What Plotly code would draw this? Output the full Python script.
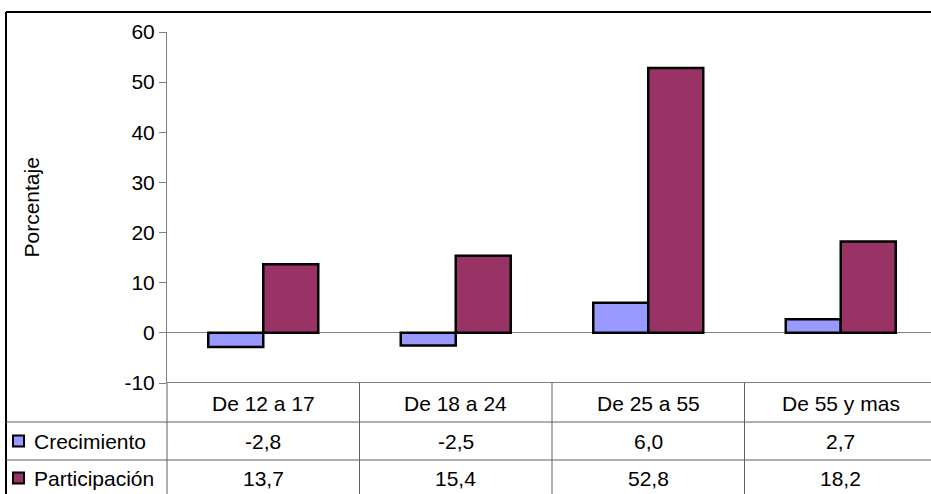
import plotly.graph_objects as go

# ---- data ----
categories = ["De 12 a 17", "De 18 a 24", "De 25 a 55", "De 55 y mas"]
crecimiento = [-2.8, -2.5, 6.0, 2.7]
participacion = [13.7, 15.4, 52.8, 18.2]
series_names = ["Crecimiento", "Participación"]
series_colors = ["#9999FF", "#993366"]
y_ticks = [-10, 0, 10, 20, 30, 40, 50, 60]
y_tick_labels = [str(t) for t in y_ticks]
y_title = "Porcentaje"

series_values = [crecimiento, participacion]

W, H = 931, 494
L, R, T, B = 167, 0, 32, 111
PW = W - L - R
PH = H - T - B
FONT = "Liberation Sans, Arial, sans-serif"
FS = 21


def xp(px):
    return (px - L) / PW


def yp(py):
    return (H - B - py) / PH


def fmt(v):
    return f"{v:.1f}".replace(".", ",")


fig = go.Figure()
for name, vals, col in zip(series_names, series_values, series_colors):
    fig.add_trace(go.Bar(
        x=list(range(len(categories))), y=vals, name=name,
        marker=dict(color=col, line=dict(color="black", width=2.5)),
        showlegend=False, hoverinfo="skip",
    ))

cat_w = 192.5
fig.update_layout(
    width=W, height=H, autosize=False,
    margin=dict(l=L, r=R, t=T, b=B, pad=0),
    paper_bgcolor="white", plot_bgcolor="white",
    barmode="group", bargap=1.5 / 3.5, bargroupgap=0,
    font=dict(family=FONT, size=FS, color="black"),
    xaxis=dict(range=[-0.5, -0.5 + PW / cat_w], showticklabels=False,
               showgrid=False, zeroline=False, showline=False, ticks=""),
    yaxis=dict(range=[-10, 60], tickvals=y_ticks, ticktext=y_tick_labels,
               ticks="outside", ticklen=7,
               tickcolor="#808080", showline=True, linecolor="#808080",
               linewidth=1, showgrid=False, zeroline=True,
               zerolinecolor="#808080", zerolinewidth=1,
               tickfont=dict(family=FONT, size=FS, color="black")),
)

shapes = []
line_gray = dict(color="#606060", width=1)
line_black = dict(color="black", width=1)
# outer border (top and left)
shapes.append(dict(type="line", xref="paper", yref="paper",
                   x0=xp(6), x1=xp(W + 5), y0=yp(12), y1=yp(12), line=dict(color="black", width=2)))
shapes.append(dict(type="line", xref="paper", yref="paper",
                   x0=xp(6), x1=xp(6), y0=yp(12), y1=yp(H + 5), line=dict(color="black", width=2)))
# table top (at -10)
shapes.append(dict(type="line", xref="paper", yref="y",
                   x0=0, x1=1, y0=-10, y1=-10, line=line_black))
# table row lines
for py in (422, 460):
    shapes.append(dict(type="line", xref="paper", yref="paper",
                       x0=xp(6), x1=1, y0=yp(py), y1=yp(py), line=line_gray))
# table column lines
shapes.append(dict(type="line", xref="paper", yref="paper",
                   x0=0, x1=0, y0=0, y1=yp(H + 5), line=line_gray))
for i in range(len(categories) - 1):
    shapes.append(dict(type="line", xref="x", yref="paper",
                       x0=i + 0.5, x1=i + 0.5, y0=0, y1=yp(H + 5), line=line_gray))
# legend keys
row_centers = [441, 478]
for col, cy in zip(series_colors, row_centers):
    shapes.append(dict(type="rect", xref="paper", yref="paper",
                       x0=xp(13), x1=xp(24), y0=yp(cy - 5.5), y1=yp(cy + 5.5),
                       fillcolor=col, line=dict(color="black", width=2)))
fig.update_layout(shapes=shapes)

ann = []
# header row
for i, c in enumerate(categories):
    ann.append(dict(x=i, y=yp(403), xref="x", yref="paper", text=c,
                    showarrow=False, xanchor="center", yanchor="middle",
                    font=dict(family=FONT, size=FS, color="black")))
# value rows
for name, vals, cy in zip(series_names, series_values, row_centers):
    ann.append(dict(x=xp(32), y=yp(cy), xref="paper", yref="paper", text=name,
                    showarrow=False, xanchor="left", yanchor="middle",
                    font=dict(family=FONT, size=FS, color="black")))
    for i, v in enumerate(vals):
        ann.append(dict(x=i, y=yp(cy), xref="x", yref="paper", text=fmt(v),
                        showarrow=False, xanchor="center", yanchor="middle",
                        font=dict(family=FONT, size=FS, color="black")))
# y axis title
ann.append(dict(x=xp(31), y=0.5, xref="paper", yref="paper", text=y_title,
                textangle=-90, showarrow=False, xanchor="center", yanchor="middle",
                font=dict(family=FONT, size=FS, color="black")))
fig.update_layout(annotations=ann)

fig.write_html("out.html", config={"displayModeBar": False},
               post_script="document.body.style.margin='0';")
